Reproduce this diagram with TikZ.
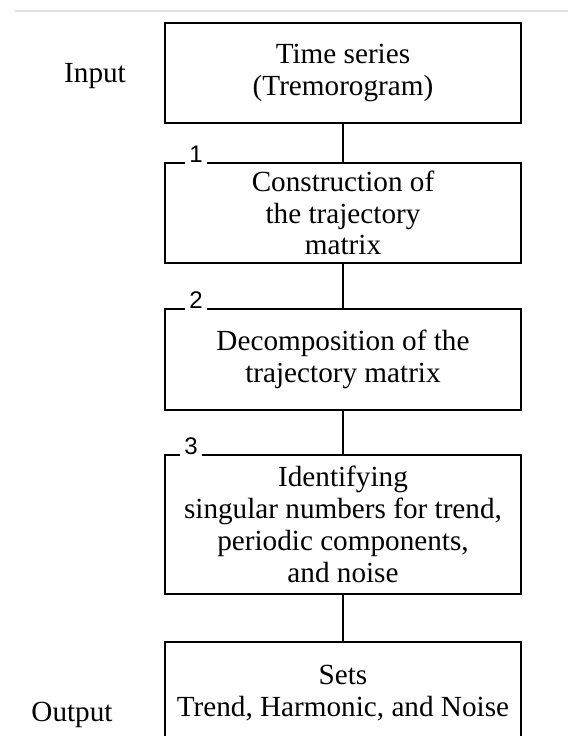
\documentclass[tikz,border=0pt]{standalone}
\usepackage{fontspec}
\setmainfont{Liberation Serif}
\setsansfont{Liberation Sans}
\usetikzlibrary{positioning}

\begin{document}
\begin{tikzpicture}[x=0.5pt,y=-0.5pt,line width=1pt,
  stage/.style={draw,align=center,minimum width=178pt,inner sep=2pt,font=\fontsize{14.6}{15.9}\selectfont},
  side/.style={font=\fontsize{14.6}{15.9}\selectfont},
  stepno/.style={fill=white,inner sep=2pt,anchor=base,font=\sffamily\fontsize{12}{14}\selectfont}]
\useasboundingbox (0,0) rectangle (568,736);
\clip (0,0) rectangle (568,736);
\draw [black!12,line width=0.6pt] (15,11) -- (568,11);
\node [stage,minimum height=50pt] (series) at (343,73) {Time series\\(Tremorogram)};
\node [stage,minimum height=50pt] (construction) at (343,213) {Construction of\\the trajectory\\matrix};
\node [stage,minimum height=50.5pt] (decomposition) at (343,359.5) {Decomposition of the\\trajectory matrix};
\node [stage,minimum height=69.5pt] (identify) at (343,524.5) {Identifying\\singular numbers for trend,\\periodic components,\\and noise};
\node [stage,minimum height=51pt] (sets) at (343,693) {Sets\\Trend, Harmonic, and Noise};
\node [side] (input) at (95,76) {Input};
\node [side] (output) at (72,715) {Output};
\node [stepno] (one) at ([xshift=16pt]construction.north west) {1};
\node [stepno] (two) at ([xshift=16pt]decomposition.north west) {2};
\node [stepno] (three) at ([xshift=13.5pt]identify.north west) {3};
\path
 (series) edge (construction)
 (construction) edge (decomposition)
 (decomposition) edge (identify)
 (identify) edge (sets);
\end{tikzpicture}
\end{document}
